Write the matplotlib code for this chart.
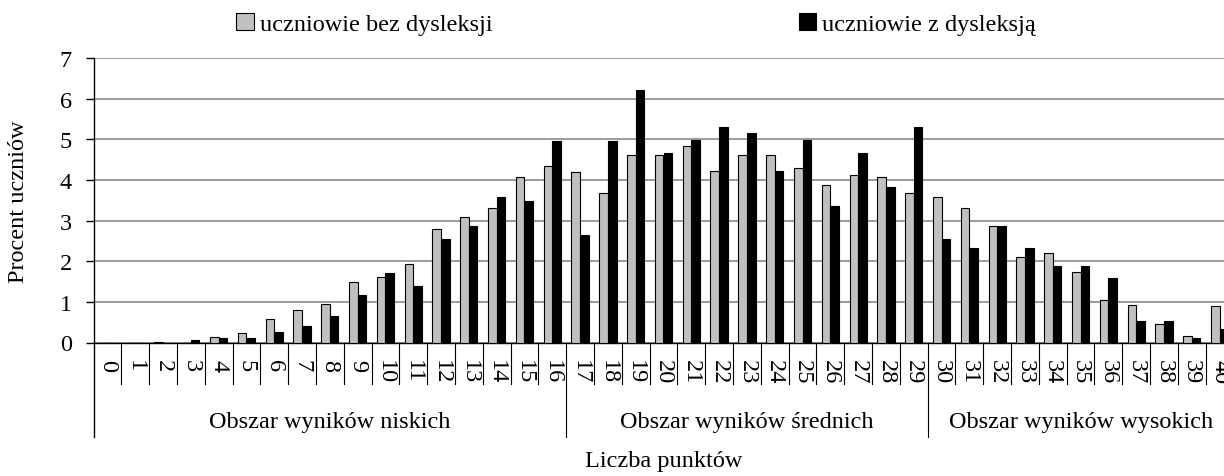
import matplotlib
matplotlib.use("Agg")
import matplotlib.pyplot as plt
from matplotlib.transforms import blended_transform_factory

plt.rcParams['font.family'] = ['Liberation Serif', 'DejaVu Serif']

points = list(range(41))
tick_labels = [str(p) for p in points]
bez_dysleksji = [0, 0, 0.02, 0, 0.14, 0.24, 0.58, 0.8, 0.94, 1.48, 1.62, 1.92, 2.8, 3.08,
                 3.31, 4.07, 4.34, 4.2, 3.67, 4.61, 4.61, 4.83, 4.21, 4.61, 4.61, 4.3, 3.88,
                 4.12, 4.07, 3.67, 3.59, 3.31, 2.86, 2.1, 2.2, 1.74, 1.04, 0.93, 0.45, 0.15, 0.9]
z_dysleksja = [0, 0, 0, 0.05, 0.1, 0.1, 0.25, 0.41, 0.64, 1.18, 1.71, 1.4, 2.55, 2.87,
               3.59, 3.49, 4.96, 2.65, 4.96, 6.22, 4.66, 4.98, 5.29, 5.16, 4.21, 4.98, 3.37,
               4.67, 3.82, 5.29, 2.55, 2.33, 2.86, 2.33, 1.89, 1.89, 1.58, 0.54, 0.54, 0.1, 0.33]
series_labels = ['uczniowie bez dysleksji', 'uczniowie z dysleksją']
groups = ['Obszar wyników niskich', 'Obszar wyników średnich', 'Obszar wyników wysokich']
group_bounds = [(-0.5, 16.5), (16.5, 29.5), (29.5, 40.5)]
y_ticks = [0, 1, 2, 3, 4, 5, 6, 7]

W, H = 1224, 477
fig = plt.figure(figsize=(W / 100, H / 100), dpi=100)
left_px, right_px, top_px, bot_px = 93.5, 1233.5, 59, 343.5
ax = fig.add_axes([left_px / W, 1 - bot_px / H, (right_px - left_px) / W, (bot_px - top_px) / H])

FS = 17.5
bw = 0.31
xs = list(points)
ax.bar([x - bw / 2 for x in xs], bez_dysleksji, width=bw, color='#c0c0c0',
       edgecolor='black', linewidth=0.8, zorder=3, label=series_labels[0])
ax.bar([x + bw / 2 for x in xs], z_dysleksja, width=bw, color='black',
       edgecolor='black', linewidth=0.8, zorder=3, label=series_labels[1])

ax.set_xlim(-0.5, 40.5)
ax.set_ylim(0, 7)
ax.set_yticks(y_ticks)
ax.set_yticklabels([str(v) for v in y_ticks], fontsize=FS)
ax.yaxis.grid(True, color='#808080', linewidth=1.1, zorder=0)
ax.set_axisbelow(True)
for s in ['top', 'right']:
    ax.spines[s].set_visible(False)
ax.spines['left'].set_linewidth(1)
ax.spines['bottom'].set_linewidth(1)
ax.tick_params(axis='y', direction='out', length=5.5, width=1, pad=10)

ax.set_xticks(xs)
ax.set_xticklabels(tick_labels, rotation=270, fontsize=FS)
ax.tick_params(axis='x', length=0, pad=12)

ax_h = bot_px - top_px
tr = blended_transform_factory(ax.transData, ax.transAxes)
y_div = -(385 - bot_px) / ax_h
y_grp = -(438 - bot_px) / ax_h
for k in range(1, 41):
    xv = k - 0.5
    low = y_grp if xv in (16.5, 29.5) else y_div
    ax.plot([xv, xv], [0, low], transform=tr, color='black', lw=0.8, clip_on=False)
ax.plot([-0.5, -0.5], [0, y_grp], transform=tr, color='black', lw=1, clip_on=False)

y_glab = -(423 - bot_px) / ax_h
for name, (a, b) in zip(groups, group_bounds):
    ax.text((a + b) / 2, y_glab, name, transform=tr, ha='center', va='center', fontsize=FS)

ax.text(0.5, -(462 - bot_px) / ax_h, 'Liczba punktów', transform=ax.transAxes,
        ha='center', va='center', fontsize=FS)
fig.text(19 / W, 1 - 202 / H, 'Procent uczniów', rotation=90, ha='center', va='center',
         fontsize=FS)

leg = ax.legend(loc='center', bbox_to_anchor=(636 / W, 1 - 25 / H),
                bbox_transform=fig.transFigure, ncol=2, frameon=False, fontsize=FS,
                handlelength=0.72, handleheight=0.72, handletextpad=0.25,
                columnspacing=12.6, borderpad=0)

fig.savefig('out.png', dpi=100)
